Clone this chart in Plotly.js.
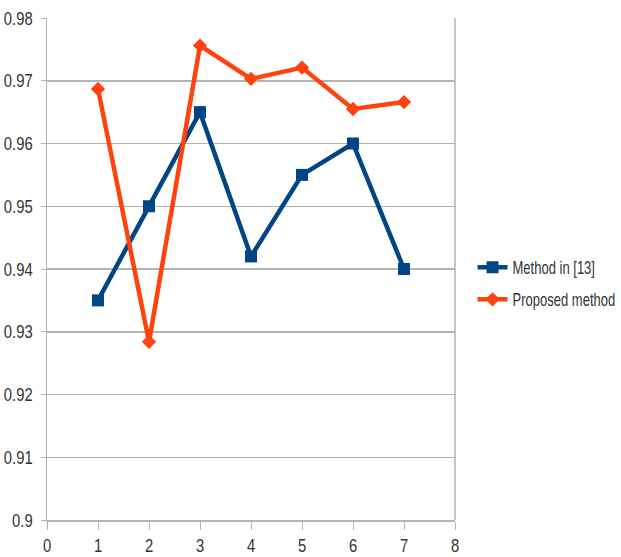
<!DOCTYPE html>
<html>
<head>
<meta charset="utf-8">
<script src="https://cdn.plot.ly/plotly-3.0.1.min.js"></script>
<style>
html,body{margin:0;padding:0;background:#fff;}
#chart{width:621px;height:557px;}
</style>
</head>
<body>
<div id="chart"></div>
<script>
const xValues = [1, 2, 3, 4, 5, 6, 7];
const methodRef = [0.935, 0.950, 0.965, 0.942, 0.955, 0.960, 0.940];
const proposed = [0.9687, 0.9284, 0.9756, 0.9703, 0.9721, 0.9655, 0.9666];
const seriesNames = ["Method in [13]", "Proposed method"];

const FONT = "'Liberation Sans', Arial, sans-serif";

const traces = [
  {
    x: xValues, y: methodRef, name: seriesNames[0], type: 'scatter', mode: 'lines+markers',
    legendgroup: 'a',
    line: {color: '#004586', width: 4.5},
    marker: {symbol: 'square', size: 12, color: '#004586'}
  },
  {
    x: xValues, y: proposed, name: seriesNames[1], type: 'scatter', mode: 'lines+markers',
    legendgroup: 'b',
    line: {color: '#ff420e', width: 4.5},
    marker: {symbol: 'diamond', size: 11, color: '#ff420e'}
  }
];

const layout = {
  width: 621, height: 557,
  margin: {l: 47, r: 166, t: 18, b: 37, autoexpand: false},
  paper_bgcolor: '#fff', plot_bgcolor: '#fff',
  font: {family: FONT, size: 19, color: '#333'},
  showlegend: true,
  legend: {
    x: 1.043, y: 0.471, xanchor: 'left', yanchor: 'middle',
    font: {family: FONT, size: 14, color: '#333'},
    traceorder: 'grouped', tracegroupgap: 11, itemwidth: 30
  },
  xaxis: {
    range: [0, 8], dtick: 1, tick0: 0,
    showgrid: false, zeroline: false,
    showline: true, linecolor: '#b3b3b3', linewidth: 1.5, mirror: false,
    ticks: 'outside', ticklen: 8, tickcolor: '#b3b3b3',
    tickfont: {family: FONT, size: 19, color: '#333'}
  },
  yaxis: {
    range: [0.9, 0.98], dtick: 0.01, tick0: 0.9,
    showgrid: true, gridcolor: '#b3b3b3', gridwidth: 1.5,
    zeroline: false,
    showline: true, linecolor: '#b3b3b3', linewidth: 1.5,
    ticks: 'outside', ticklen: 5, tickcolor: '#b3b3b3',
    ticklabelstandoff: 4,
    tickfont: {family: FONT, size: 19, color: '#333'}
  },
  shapes: [
    {type: 'line', xref: 'paper', yref: 'paper', x0: 1, x1: 1, y0: 0, y1: 1, line: {color: '#b3b3b3', width: 1.5}}
  ]
};

function condense(sel, factor) {
  document.querySelectorAll(sel).forEach(function (t) {
    const w = t.getComputedTextLength();
    if (w > 0) {
      t.setAttribute('textLength', (w * factor).toFixed(2));
      t.setAttribute('lengthAdjust', 'spacingAndGlyphs');
    }
  });
}

function stretchLegend(sx, sy) {
  document.querySelectorAll('#chart .legendtext').forEach(function (t) {
    const x = parseFloat(t.getAttribute('x')) || 0;
    t.setAttribute('transform', 'translate(' + x + ',0) scale(' + sx + ',' + sy + ') translate(' + (-x) + ',0)');
  });
}

Plotly.newPlot('chart', traces, layout, {displayModeBar: false, staticPlot: true}).then(function () {
  condense('#chart .xtick text, #chart .ytick text', 0.78);
  stretchLegend(0.93, 1.25);
});
</script>
</body>
</html>
